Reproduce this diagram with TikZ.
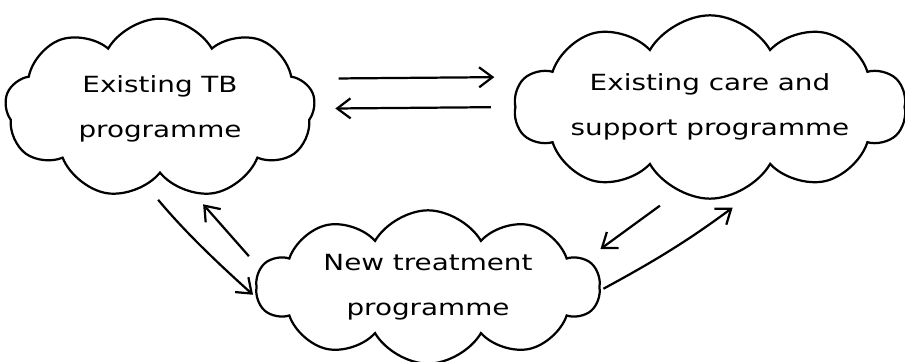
\documentclass[tikz,border=0pt]{standalone}
\usepackage{fontspec}
\usepackage{tikz}
\usetikzlibrary{arrows.meta,shapes.symbols}
\newfontfamily\handfont[FakeStretch=1.25]{DejaVu Sans}

\begin{document}
\begin{tikzpicture}[>={Straight Barb[length=4mm,width=6mm]}, line width=1.9pt,
  every node/.style={font=\handfont\fontsize{19}{38}\selectfont},
  prog/.style={draw,cloud,cloud puffs=9,cloud puff arc=120,cloud ignores aspect,align=center,inner sep=0pt},
  link/.style={->,shorten <=2mm,shorten >=2mm}]
\useasboundingbox (0,0) rectangle (27.15,10.86);
\node[prog,minimum width=9.3cm,minimum height=5.4cm] (tb) at (4.8,7.6) {Existing TB\\programme};
\node[prog,cloud puffs=10,minimum width=11.6cm,minimum height=5.5cm] (care) at (21.3,7.65) {Existing care and\\support programme};
\node[prog,cloud puffs=10,minimum width=10.3cm,minimum height=4.6cm] (new) at (12.84,2.25) {New treatment\\programme};
\draw[link,shorten <=7mm,shorten >=6mm] ([yshift=0.9cm]tb.east) -- ([yshift=0.9cm]care.west);
\draw[link,shorten <=7mm,shorten >=6mm] ([yshift=0cm]care.west) -- ([yshift=0cm]tb.east);
\draw[link,shorten <=10mm,shorten >=1mm] ([xshift=-0.7cm]tb.south) to[bend right=4] ([yshift=-0.3cm]new.west);
\draw[link,shorten <=3mm,shorten >=12mm] ([yshift=0.7cm]new.west) -- ([xshift=0.5cm]tb.south);
\draw[link,shorten <=3mm,shorten >=0mm] ([xshift=-1.26cm]care.south) -- ([yshift=1.14cm]new.east);
\draw[link,shorten <=1mm,shorten >=4mm] ([yshift=-0.1cm]new.east) to[bend right=4] ([xshift=1.0cm]care.south);
\end{tikzpicture}
\end{document}
